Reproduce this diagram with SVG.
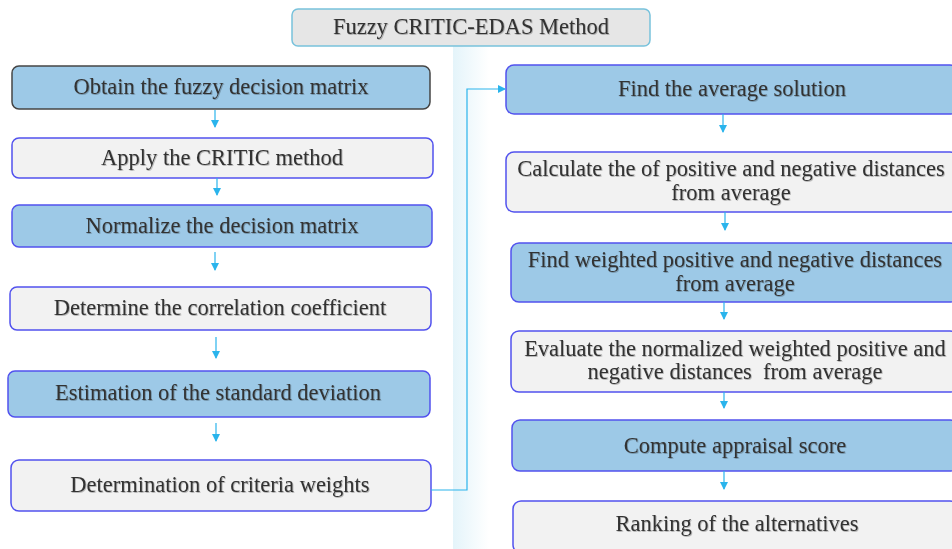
<svg xmlns="http://www.w3.org/2000/svg" width="952" height="549" viewBox="0 0 952 549">
  <defs>
    <linearGradient id="band" x1="0" y1="0" x2="1" y2="0">
      <stop offset="0" stop-color="#e4f4fa"/>
      <stop offset="1" stop-color="#ffffff"/>
    </linearGradient>
    <filter id="txtShadow" x="-5%" y="-30%" width="110%" height="160%">
      <feDropShadow dx="0.8" dy="0.8" stdDeviation="0.7" flood-color="#000000" flood-opacity="0.3"/>
    </filter>
    <marker id="head" viewBox="0 0 8 8" refX="7" refY="4" markerWidth="8" markerHeight="8" markerUnits="userSpaceOnUse" orient="auto">
      <path d="M0,0 L8,4 L0,8 Z" fill="#2ab4ec"/>
    </marker>
  </defs>
  <style>
    .blue { fill: #9dc9e7; stroke: #5252ee; stroke-width: 1.5; }
    .grey { fill: #f2f2f2; stroke: #5252ee; stroke-width: 1.5; }
    .lbl { font-family: "Liberation Serif", "Times New Roman", serif; font-size: 22.5px; fill: #333333; text-anchor: middle; filter: url(#txtShadow); }
    .conn { fill: none; stroke: #2ab4ec; stroke-width: 1.2; marker-end: url(#head); }
  </style>

  <rect width="952" height="549" fill="#ffffff"/>
  <!-- soft vertical band between the two columns -->
  <rect x="453" y="40" width="36" height="509" fill="url(#band)"/>

  <g id="title">
    <rect x="292" y="9" width="358" height="37" rx="6" fill="#e6e6e6" stroke="#78c2dc" stroke-width="1.5"/>
    <text class="lbl" x="471" y="34">Fuzzy CRITIC-EDAS Method</text>
  </g>

  <!-- left column: CRITIC weighting -->
  <g id="n1">
    <rect class="blue" x="12" y="66" width="418" height="43" rx="7" style="stroke:#454545"/>
    <text class="lbl" x="221" y="94">Obtain the fuzzy decision matrix</text>
  </g>
  <g id="n2">
    <rect class="grey" x="12" y="138" width="421" height="40" rx="7"/>
    <text class="lbl" x="222" y="165">Apply the CRITIC method</text>
  </g>
  <g id="n3">
    <rect class="blue" x="12" y="205" width="420" height="42" rx="7"/>
    <text class="lbl" x="222" y="233">Normalize the decision matrix</text>
  </g>
  <g id="n4">
    <rect class="grey" x="10" y="287" width="421" height="43" rx="7"/>
    <text class="lbl" x="220" y="315">Determine the correlation coefficient</text>
  </g>
  <g id="n5">
    <rect class="blue" x="8" y="371" width="422" height="46" rx="7"/>
    <text class="lbl" x="218" y="400">Estimation of the standard deviation</text>
  </g>
  <g id="n6">
    <rect class="grey" x="11" y="460" width="420" height="51" rx="8"/>
    <text class="lbl" x="220" y="492">Determination of criteria weights</text>
  </g>

  <!-- right column: EDAS ranking -->
  <g id="n7">
    <rect class="blue" x="506" y="65" width="452" height="49" rx="8"/>
    <text class="lbl" x="732" y="96">Find the average solution</text>
  </g>
  <g id="n8">
    <rect class="grey" x="506" y="152" width="452" height="60" rx="8"/>
    <text class="lbl" x="731" y="176">Calculate the of positive and negative distances</text>
    <text class="lbl" x="731" y="200">from average</text>
  </g>
  <g id="n9">
    <rect class="blue" x="511" y="243" width="447" height="59" rx="8"/>
    <text class="lbl" x="735" y="267">Find weighted positive and negative distances</text>
    <text class="lbl" x="735" y="291">from average</text>
  </g>
  <g id="n10">
    <rect class="grey" x="511" y="331" width="447" height="61" rx="8"/>
    <text class="lbl" x="735" y="356">Evaluate the normalized weighted positive and</text>
    <text class="lbl" x="735" y="379" xml:space="preserve">negative distances  from average</text>
  </g>
  <g id="n11">
    <rect class="blue" x="512" y="420" width="446" height="51" rx="8"/>
    <text class="lbl" x="735" y="453">Compute appraisal score</text>
  </g>
  <g id="n12">
    <rect class="grey" x="513" y="501" width="445" height="52" rx="8"/>
    <text class="lbl" x="737" y="531">Ranking of the alternatives</text>
  </g>

  <g id="connectors">
    <path class="conn" d="M215,110 V127"/>
    <path class="conn" d="M217,178 V195"/>
    <path class="conn" d="M215,252 V270"/>
    <path class="conn" d="M216,337 V358"/>
    <path class="conn" d="M216,423 V441"/>
    <path class="conn" d="M431,490 H467 V89 H505"/>
    <path class="conn" d="M723,114 V132"/>
    <path class="conn" d="M725,212 V230"/>
    <path class="conn" d="M724,302 V319"/>
    <path class="conn" d="M724,392 V408"/>
    <path class="conn" d="M724,471 V489"/>
  </g>
</svg>
